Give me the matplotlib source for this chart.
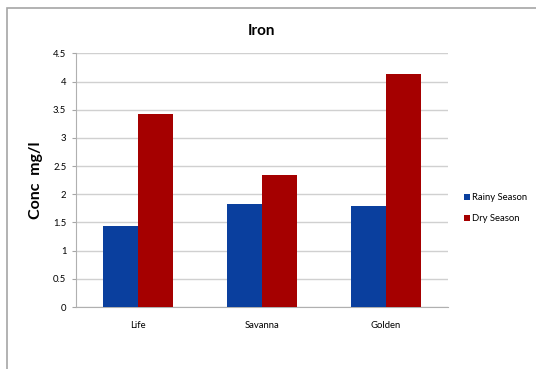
import numpy as np
import matplotlib
matplotlib.use("Agg")
import matplotlib.pyplot as plt
from matplotlib.patches import Rectangle

plt.rcParams['font.family'] = ['Lato', 'DejaVu Sans']

# iron concentration per site
sites = ["Life", "Savanna", "Golden"]
rainy = [1.44, 1.83, 1.80]
dry = [3.42, 2.35, 4.14]
yticks = [0, 0.5, 1, 1.5, 2, 2.5, 3, 3.5, 4, 4.5]

fig = plt.figure(figsize=(5.36, 3.69), dpi=100)
# outer chart border
fig.patches.append(Rectangle((7 / 536, -0.1), 1.2, 1.1 - 8 / 369, transform=fig.transFigure,
                             fill=False, edgecolor="#a6a6a6", linewidth=1.2))

ax = fig.add_axes([0.1418, 0.168, 0.694, 0.6875])
x = np.arange(len(sites))
w = 0.285
ax.bar(x - w / 2, rainy, w, color="#0a3f9e", label="Rainy Season", zorder=3)
ax.bar(x + w / 2, dry, w, color="#a50000", label="Dry Season", zorder=3)

ax.set_xlim(-0.5, 2.5)
ax.set_ylim(0, 4.5)
ax.set_yticks(yticks)
ax.set_yticklabels([f"{t:g}" for t in yticks], fontsize=6.8)
ax.set_xticks(x)
ax.set_xticklabels(sites, fontsize=6.8)
ax.tick_params(axis="x", length=0, pad=10)
ax.tick_params(axis="y", length=3, color="#a6a6a6", pad=4)
ax.grid(axis="y", color="#d0d0d0", linewidth=1, zorder=0)
for s in ["top", "right"]:
    ax.spines[s].set_visible(False)
for s in ["left", "bottom"]:
    ax.spines[s].set_color("#b0b0b0")

ax.set_title("Iron", fontsize=11, fontweight="bold", pad=13)
ax.set_ylabel("Conc  mg/l", fontsize=11.5, fontweight="bold", labelpad=7)

ax.legend(loc="center left", bbox_to_anchor=(1.02, 0.39), frameon=False, fontsize=6.8,
          handlelength=0.6, handleheight=0.6, handletextpad=0.3, labelspacing=1.3)

fig.savefig("out.png", dpi=100)
